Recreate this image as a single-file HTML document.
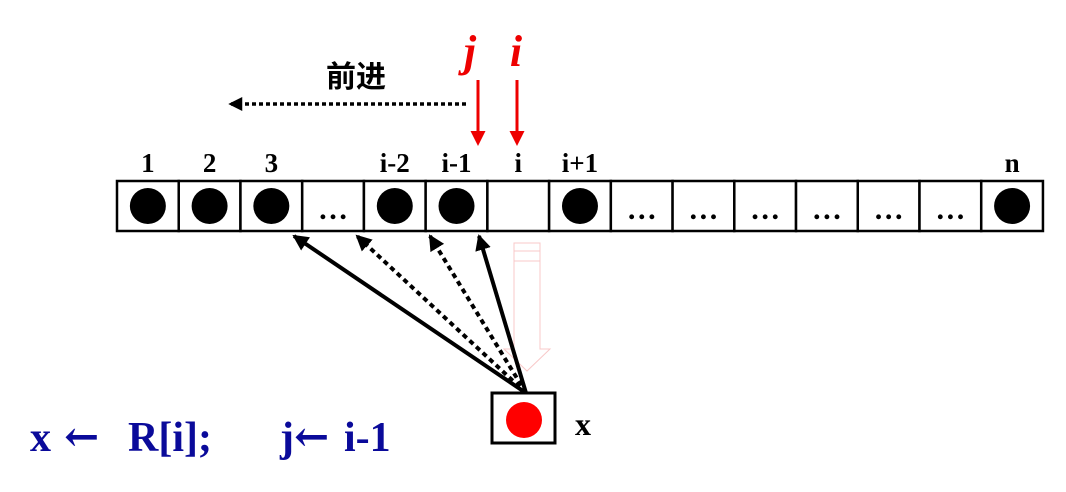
<!DOCTYPE html>
<html><head><meta charset="utf-8"><style>
body{margin:0;background:#fff;}
svg{display:block;font-family:"Liberation Serif","Noto Serif CJK SC",serif;font-weight:bold;}
</style></head><body>
<svg width="1066" height="492" viewBox="0 0 1066 492">
<defs>
<marker id="ah" markerWidth="4" markerHeight="4" refX="3.5" refY="2" orient="auto" markerUnits="strokeWidth"><path d="M0,0 L4,2 L0,4 z" fill="#000"/></marker>
<marker id="rh" markerWidth="5" markerHeight="5" refX="4" refY="2.5" orient="auto" markerUnits="strokeWidth"><path d="M0,0 L5,2.5 L0,5 z" fill="#e00"/></marker>
</defs>
<text x="356" y="87" font-size="30" text-anchor="middle" font-family="Noto Sans CJK SC, sans-serif">前进</text>
<line x1="466" y1="104" x2="230" y2="104" stroke="#000" stroke-width="3.5" stroke-dasharray="4,3" marker-end="url(#ah)"/>
<text x="470" y="66" font-size="44" fill="#e00" font-style="italic" text-anchor="middle">j</text>
<text x="516" y="66" font-size="44" fill="#e00" font-style="italic" text-anchor="middle">i</text>
<line x1="478" y1="80" x2="478" y2="143" stroke="#e00" stroke-width="3" marker-end="url(#rh)"/>
<line x1="517" y1="80" x2="517" y2="143" stroke="#e00" stroke-width="3" marker-end="url(#rh)"/>
<g id="cells" font-size="27"></g>
<path d="M514,243 h26 v8 h-26 z M514,251 h26 v10 h-26 z M514,261 h26 v88 h10 l-23,22 l-23,-22 h10 z" fill="none" stroke="#f8c8c8" stroke-width="1"/>
<line x1="526" y1="393" x2="294" y2="236" stroke="#000" stroke-width="4" marker-end="url(#ah)"/>
<line x1="526" y1="393" x2="357" y2="236" stroke="#000" stroke-width="4" stroke-dasharray="5,4" marker-end="url(#ah)"/>
<line x1="526" y1="393" x2="430" y2="236" stroke="#000" stroke-width="4" stroke-dasharray="5,4" marker-end="url(#ah)"/>
<line x1="526" y1="393" x2="479" y2="236" stroke="#000" stroke-width="4" marker-end="url(#ah)"/>
<rect x="492" y="393" width="63" height="50" fill="#fff" stroke="#000" stroke-width="3"/>
<circle cx="524" cy="420" r="18" fill="#f00"/>
<text x="575" y="435" font-size="32">x</text>
<g font-size="42" fill="#0a0a9a">
<text x="30" y="451">x</text>
<text x="64" y="451" font-family="DejaVu Serif, serif">←</text>
<text x="128" y="451">R[i];</text>
<text x="280" y="451">j</text>
<text x="294" y="451" font-family="DejaVu Serif, serif">←</text>
<text x="344" y="451">i-1</text>
</g>
</svg>
<script>
const labels=["1","2","3","","i-2","i-1","i","i+1","","","","","","","n"];
const contents=["dot","dot","dot","dots","dot","dot","empty","dot","dots","dots","dots","dots","dots","dots","dot"];
const g=document.getElementById('cells');
const ns="http://www.w3.org/2000/svg";
const x0=117,w=61.73,y0=181,h=50;
labels.forEach((lab,i)=>{
  const x=x0+i*w;
  const r=document.createElementNS(ns,'rect');
  r.setAttribute('x',x);r.setAttribute('y',y0);r.setAttribute('width',w);r.setAttribute('height',h);
  r.setAttribute('fill','#fff');r.setAttribute('stroke','#000');r.setAttribute('stroke-width','2.5');
  
  
  g.appendChild(r);
  if(contents[i]==='dot'){
    const c=document.createElementNS(ns,'circle');
    c.setAttribute('cx',x+w/2);c.setAttribute('cy',y0+h/2);c.setAttribute('r',18);c.setAttribute('fill','#000');
    
    
    g.appendChild(c);
  } else if(contents[i]==='dots'){
    const t=document.createElementNS(ns,'text');
    t.setAttribute('x',x+w/2);t.setAttribute('y',y0+38);t.setAttribute('text-anchor','middle');t.setAttribute('font-size','30');
    t.textContent='…';
    
    
    g.appendChild(t);
  }
  if(lab){
    const t=document.createElementNS(ns,'text');
    t.setAttribute('x',x+w/2);t.setAttribute('y',172);t.setAttribute('text-anchor','middle');
    t.textContent=lab;
    
    
    g.appendChild(t);
  }
});
</script>
</body></html>
